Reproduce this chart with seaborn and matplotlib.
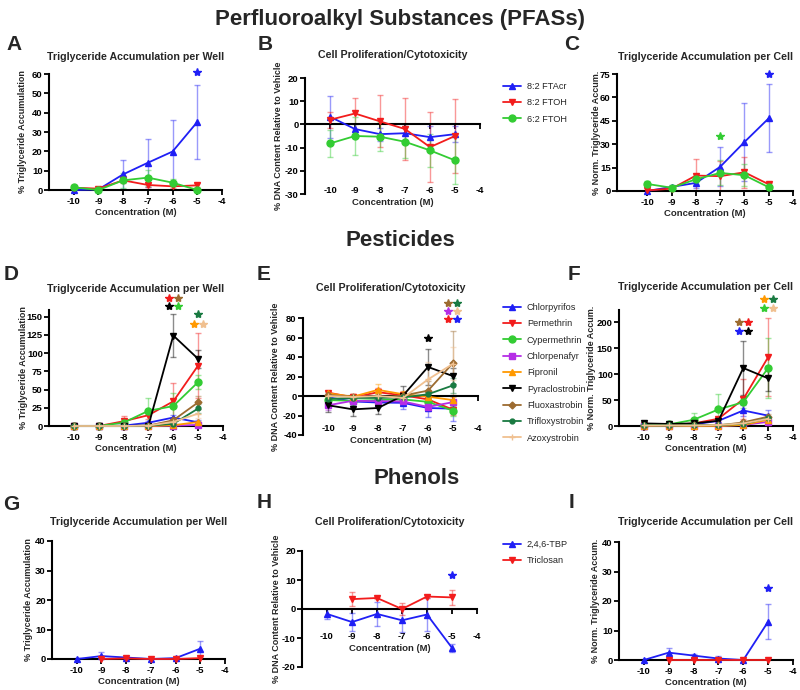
import numpy as np
import matplotlib
matplotlib.use("Agg")
import matplotlib.pyplot as plt
import seaborn as sns

# ---- data ----
conc = [-10, -9, -8, -7, -6, -5]
xticks = [-10, -9, -8, -7, -6, -5, -4]
nan = np.nan

pfas = ["8:2 FTAcr", "8:2 FTOH", "6:2 FTOH"]
pesticides = ["Chlorpyrifos", "Permethrin", "Cypermethrin", "Chlorpenafyr", "Fipronil",
              "Pyraclostrobin", "Fluoxastrobin", "Trifloxystrobin", "Azoxystrobin"]
phenols = ["2,4,6-TBP", "Triclosan"]

# A: PFAS triglyceride per well
a_mean = {"8:2 FTAcr": [0, 0.3, 8.1, 14.1, 19.9, 35.2],
          "8:2 FTOH": [1.2, 0.7, 5.0, 2.6, 1.9, 2.4],
          "6:2 FTOH": [1.4, 0.0, 5.0, 6.4, 3.8, 0.0]}
a_sd = {"8:2 FTAcr": [0.5, 0.5, 7.6, 12.4, 16.4, 19.0],
        "8:2 FTOH": [0.5, 0.5, 1.5, 1.0, 1.0, 1.0],
        "6:2 FTOH": [0.8, 0.5, 4.0, 4.2, 1.8, 0.5]}
# B: PFAS DNA content
b_mean = {"8:2 FTAcr": [3.3, -2.0, -4.2, -3.8, -5.5, -4.2],
          "8:2 FTOH": [2.0, 4.7, 1.3, -2.0, -9.8, -5.0],
          "6:2 FTOH": [-8.2, -5.0, -5.3, -7.5, -11.2, -15.5]}
b_sd = {"8:2 FTAcr": [9.0, 2.0, 2.8, 3.8, 5.0, 3.5],
        "8:2 FTOH": [3.5, 6.8, 11.2, 13.4, 15.2, 15.9],
        "6:2 FTOH": [5.8, 8.0, 6.2, 7.0, 7.2, 10.0]}
# C: PFAS triglyceride per cell
c_mean = {"8:2 FTAcr": [0, 2.6, 5.2, 15.5, 31.4, 46.6],
          "8:2 FTOH": [0.4, 1.5, 9.9, 9.5, 12.0, 4.3],
          "6:2 FTOH": [4.5, 2.1, 7.5, 11.6, 10.1, 2.4]}
c_sd = {"8:2 FTAcr": [0.5, 1.0, 3.0, 12.5, 25.0, 21.8],
        "8:2 FTOH": [0.5, 1.0, 10.3, 9.8, 9.9, 1.0],
        "6:2 FTOH": [2.0, 1.0, 3.0, 8.0, 7.0, 1.0]}

# D: pesticides triglyceride per well
d_mean = {"Chlorpyrifos": [0, 0, 0.5, 4.5, 11.6, 5.1],
          "Permethrin": [0, 0, 6.5, 14.8, 33.8, 82.9],
          "Cypermethrin": [0, 0, 4.6, 20.8, 27.3, 60.2],
          "Chlorpenafyr": [0, 0, 0, 0, 0.5, 1.5],
          "Fipronil": [0, 0, 0, 0, 1.0, 5.5],
          "Pyraclostrobin": [0, 0, 0, 0.5, 124, 92],
          "Fluoxastrobin": [0, 0, 0, 0.5, 7.9, 32.4],
          "Trifloxystrobin": [0, 0, 0, 0.5, 3.0, 24],
          "Azoxystrobin": [0, 0, 0, 0.5, 5.6, 17]}
d_sd = {"Chlorpyrifos": [0.5, 0.5, 0.5, 2, 4, 3],
        "Permethrin": [0.5, 0.5, 7, 5, 25, 44],
        "Cypermethrin": [0.5, 0.5, 3, 18, 18, 10],
        "Chlorpenafyr": [0.3, 0.3, 0.3, 0.3, 0.5, 1],
        "Fipronil": [0.3, 0.3, 0.3, 0.3, 1, 2],
        "Pyraclostrobin": [0.5, 0.5, 0.5, 0.5, 29, 12],
        "Fluoxastrobin": [0.3, 0.3, 0.3, 0.5, 3, 9],
        "Trifloxystrobin": [0.3, 0.3, 0.3, 0.5, 2, 6],
        "Azoxystrobin": [0.3, 0.3, 0.3, 0.5, 3, 6]}
# E: pesticides DNA content
e_mean = {"Chlorpyrifos": [-1.4, -5.6, -6.7, -7.0, -12.3, -13.0],
          "Permethrin": [3.5, -1.4, 3.9, 0.7, -3.5, -14.0],
          "Cypermethrin": [-4.2, -4.9, -4.2, -3.5, -6.0, -15.0],
          "Chlorpenafyr": [-9.5, -4.9, -5.3, -5.6, -11.2, -6.3],
          "Fipronil": [2.8, -0.7, 6.3, 1.8, -0.7, -4.2],
          "Pyraclostrobin": [-9.5, -13.7, -12.3, 0.4, 29.8, 20.4],
          "Fluoxastrobin": [1.0, -0.7, -1.4, 0.4, 5.5, 33.8],
          "Trifloxystrobin": [-3.0, -2.0, -2.0, -1.5, 1.8, 10.9],
          "Azoxystrobin": [0.0, -1.0, 0.0, -2.0, 17.0, 33.0]}
e_sd = {"Chlorpyrifos": [4, 5, 5, 6, 9, 13],
        "Permethrin": [2, 3, 4, 3, 4, 5],
        "Cypermethrin": [3, 3, 3, 3, 4, 5],
        "Chlorpenafyr": [5, 4, 4, 4, 4, 6],
        "Fipronil": [2, 2, 6, 3, 3, 3],
        "Pyraclostrobin": [6.5, 7, 6, 10, 18.5, 8],
        "Fluoxastrobin": [3, 3, 3, 3, 10, 33],
        "Trifloxystrobin": [3, 3, 3, 3, 4, 8],
        "Azoxystrobin": [3, 3, 3, 3, 18, 17]}
# F: pesticides triglyceride per cell
f_mean = {"Chlorpyrifos": [0, 3, 3, 10, 30, 20],
          "Permethrin": [1, 2, 5, 14, 52, 133],
          "Cypermethrin": [2, 3, 12, 32, 46, 112],
          "Chlorpenafyr": [0, 0, 0, 0, 2, 8],
          "Fipronil": [0, 0, 0, 0, 2, 12],
          "Pyraclostrobin": [5, 4, 5, 10, 112, 92],
          "Fluoxastrobin": [0, 0, 1, 1, 7, 18],
          "Trifloxystrobin": [2, 1, 2, 2, 4, 15],
          "Azoxystrobin": [1, 1, 1, 2, 5, 14]}
f_sd = {"Chlorpyrifos": [1, 1, 2, 4, 10, 10],
        "Permethrin": [1, 1, 2, 4, 38, 76],
        "Cypermethrin": [1, 1, 13, 30, 12, 58],
        "Chlorpenafyr": [0.5, 0.5, 0.5, 0.5, 1, 3],
        "Fipronil": [0.5, 0.5, 0.5, 0.5, 1, 3],
        "Pyraclostrobin": [1, 2, 2, 3, 53, 24],
        "Fluoxastrobin": [0.5, 0.5, 1, 1, 3, 5],
        "Trifloxystrobin": [1, 1, 1, 1, 2, 5],
        "Azoxystrobin": [1, 1, 1, 1, 2, 5]}

# G: phenols triglyceride per well
g_mean = {"2,4,6-TBP": [0, 1.0, 0.5, 0, 0.3, 3.5],
          "Triclosan": [nan, 0, 0.2, 0, 0, 0.3]}
g_sd = {"2,4,6-TBP": [0.5, 1.5, 0.5, 0.3, 0.5, 2.6],
        "Triclosan": [nan, 0.3, 0.3, 0.3, 0.3, 0.3]}
# H: phenols DNA content
h_mean = {"2,4,6-TBP": [-1.7, -4.5, -1.7, -3.9, -1.9, -13.4],
          "Triclosan": [nan, 3.4, 3.8, 0.0, 4.3, 4.0]}
h_sd = {"2,4,6-TBP": [1.8, 3.0, 4.1, 4.0, 5.7, 1.5],
        "Triclosan": [nan, 2.4, 0.5, 2.0, 0.5, 2.6]}
# I: phenols triglyceride per cell
i_mean = {"2,4,6-TBP": [0, 2.5, 1.5, 0.5, 0, 13.0],
          "Triclosan": [nan, 0, 0, 0, 0, 0]}
i_sd = {"2,4,6-TBP": [0.5, 1.7, 0.5, 1.0, 0.5, 6.0],
        "Triclosan": [nan, 0.3, 0.3, 0.3, 0.3, 0.3]}

# significance stars: (concentration, side, y value, compound)
a_stars = [(-5, 0, 61, "8:2 FTAcr")]
c_stars = [(-5, 0, 75, "8:2 FTAcr"), (-7, 0, 35, "6:2 FTOH")]
d_stars = [(-6, -1, 176, "Permethrin"), (-6, 1, 176, "Fluoxastrobin"),
           (-6, -1, 164, "Pyraclostrobin"), (-6, 1, 164, "Cypermethrin"),
           (-5, 0, 153, "Trifloxystrobin"),
           (-5, -1, 140, "Fipronil"), (-5, 1, 140, "Azoxystrobin")]
e_stars = [(-6, 0, 59, "Pyraclostrobin"),
           (-5, -1, 95, "Fluoxastrobin"), (-5, 1, 95, "Trifloxystrobin"),
           (-5, -1, 87, "Chlorpenafyr"), (-5, 1, 87, "Azoxystrobin"),
           (-5, -1, 79, "Permethrin"), (-5, 1, 79, "Chlorpyrifos")]
f_stars = [(-6, -1, 201, "Fluoxastrobin"), (-6, 1, 201, "Permethrin"),
           (-6, -1, 183, "Chlorpyrifos"), (-6, 1, 183, "Pyraclostrobin"),
           (-5, -1, 245, "Fipronil"), (-5, 1, 245, "Trifloxystrobin"),
           (-5, -1, 227, "Cypermethrin"), (-5, 1, 227, "Azoxystrobin")]
h_stars = [(-5, 0, 11.8, "2,4,6-TBP")]
i_stars = [(-5, 0, 24.5, "2,4,6-TBP")]

# ---- styles ----
BLUE, RED, GREEN = "#1f1ff5", "#f21c1c", "#33cc33"
style = {"8:2 FTAcr": (BLUE, "^", 4), "8:2 FTOH": (RED, "v", 4), "6:2 FTOH": (GREEN, "o", 5),
         "Chlorpyrifos": (BLUE, "^", 4), "Permethrin": (RED, "v", 4), "Cypermethrin": (GREEN, "o", 5),
         "Chlorpenafyr": ("#b52ee6", "s", 4.5), "Fipronil": ("#ff9900", "^", 4),
         "Pyraclostrobin": ("black", "v", 5), "Fluoxastrobin": ("#9c6b30", "D", 3.5),
         "Trifloxystrobin": ("#197a41", "o", 3.5), "Azoxystrobin": ("#f0c090", "+", 4),
         "2,4,6-TBP": (BLUE, "^", 4), "Triclosan": (RED, "v", 4)}

sns.set_theme(style="ticks")
plt.rcParams["font.family"] = ["Liberation Sans", "DejaVu Sans"]
plt.rcParams["axes.linewidth"] = 1.5
plt.rcParams["axes.edgecolor"] = "black"
plt.rcParams["axes.unicode_minus"] = False

W, H = 800, 690
fig = plt.figure(figsize=(8, 6.9), dpi=100)


def rect(left, right, top, bottom):
    return [left / W, 1 - bottom / H, (right - left) / W, (bottom - top) / H]


def panel(box, means, sds, names, ylim, yticks, xleft, title, ylabel, stars,
          ylab_x, title_y, xpad, letter, letter_xy):
    ax = fig.add_axes(rect(*box))
    for name in names:
        col, mk, ms = style[name]
        m = np.array(means[name], float)
        s = np.array(sds[name], float)
        ax.errorbar(conc, m, yerr=s, fmt="none", ecolor=col, alpha=0.45,
                    elinewidth=1, capsize=2.5, capthick=1, zorder=2)
        sns.lineplot(x=conc, y=m, color=col, marker=mk, markersize=ms,
                     markeredgecolor=col, markeredgewidth=1, linewidth=1.3,
                     errorbar=None, label=name, clip_on=False, zorder=3, ax=ax)
    for cx, side, y, name in stars:
        ax.plot(cx + 0.18 * side, y, marker="*", markersize=6, color=style[name][0],
                linestyle="none", clip_on=False, zorder=4)
    if ax.get_legend() is not None:
        ax.get_legend().remove()
    ax.set_xlim(xleft, -4)
    ax.set_ylim(*ylim)
    ax.set_xticks(xticks)
    ax.set_yticks(yticks)
    sns.despine(ax=ax)
    if ylim[0] < 0:
        ax.spines["bottom"].set_position(("data", 0))
    ax.tick_params(axis="both", direction="out", length=3.5, width=1.3, color="black",
                   labelsize=6.8, labelcolor="black")
    ax.tick_params(axis="x", pad=xpad)
    ax.tick_params(axis="y", pad=1)
    for lab in ax.get_xticklabels() + ax.get_yticklabels():
        lab.set_fontweight("bold")
    ax.set_xlabel("Concentration (M)", fontsize=6.8, fontweight="bold", labelpad=2)
    ax.set_ylabel(ylabel, fontsize=6.5, fontweight="bold")
    ax.yaxis.set_label_coords(ylab_x, 0.5)
    ax.text(0.5, title_y, title, transform=ax.transAxes, ha="center", va="center",
            fontsize=7.7, fontweight="bold")
    fig.text(letter_xy[0] / W, 1 - letter_xy[1] / H, letter, fontsize=15,
             fontweight="bold", ha="center", va="center")
    return ax


TW, TC = "Triglyceride Accumulation per Well", "Triglyceride Accumulation per Cell"
TP = "Cell Proliferation/Cytotoxicity"
YW, YC, YD = "% Triglyceride Accumulation", "% Norm. Triglyceride Accum.", "% DNA Content Relative to Vehicle"

# row 1: PFAS
panel((49, 222, 74, 190), a_mean, a_sd, pfas, (0, 60), range(0, 61, 10), -11,
      TW, YW, a_stars, -0.125, 1.145, 1.2, "A", (14, 45))
ax_b = panel((305, 480, 78, 194), b_mean, b_sd, pfas, (-30, 20), range(-30, 21, 10), -11,
             TP, YD, [], -0.125, 1.2, 41, "B", (265, 45))
panel((617, 793, 74, 191), c_mean, c_sd, pfas, (0, 75), range(0, 76, 15), -11.25,
      TC, YC, c_stars, -0.09, 1.145, 1.2, "C", (572, 45))

# row 2: pesticides
panel((49, 223, 310, 426), d_mean, d_sd, pesticides, (0, 159), range(0, 151, 25), -11,
      TW, YW, d_stars, -0.12, 1.18, 1.2, "D", (11, 275))
ax_e = panel((303, 478, 318, 435), e_mean, e_sd, pesticides, (-40, 80), range(-40, 81, 20), -11,
             TP, YD, e_stars, -0.13, 1.26, 17, "E", (264, 275))
panel((619, 793, 310, 426), f_mean, f_sd, pesticides, (0, 224), range(0, 201, 50), -11,
      TC, YC, f_stars, -0.13, 1.2, 1.2, "F", (574, 275))

# row 3: phenols
panel((52, 225, 541, 659), g_mean, g_sd, phenols, (0, 40), range(0, 41, 10), -11,
      TW, YW, [], -0.11, 1.16, 1.2, "G", (11, 505))
ax_h = panel((302, 477, 551, 667), h_mean, h_sd, phenols, (-20, 20), range(-20, 21, 10), -11,
             TP, YD, h_stars, -0.12, 1.25, 13.4, "H", (264, 503))
panel((619, 793, 542, 660), i_mean, i_sd, phenols, (0, 40), range(0, 41, 10), -11,
      TC, YC, i_stars, -0.11, 1.17, 1.2, "I", (571, 503))

# legends
for ax, top in [(ax_b, 82), (ax_e, 303), (ax_h, 540)]:
    handles, labels = ax.get_legend_handles_labels()
    ax.legend(handles, labels, loc="upper left", bbox_to_anchor=(503 / W, 1 - top / H),
              bbox_transform=fig.transFigure, frameon=False, fontsize=6.6,
              handlelength=2.0, handletextpad=0.6, labelspacing=0.8,
              borderpad=0, borderaxespad=0)

# section headings
fig.text(0.5, 1 - 20 / H, "Perfluoroalkyl Substances (PFASs)", fontsize=16,
         fontweight="bold", ha="center", va="center")
fig.text(0.5, 1 - 240 / H, "Pesticides", fontsize=16, fontweight="bold", ha="center", va="center")
fig.text(417 / W, 1 - 478 / H, "Phenols", fontsize=16, fontweight="bold", ha="center", va="center")

fig.savefig("out.png", dpi=100)
